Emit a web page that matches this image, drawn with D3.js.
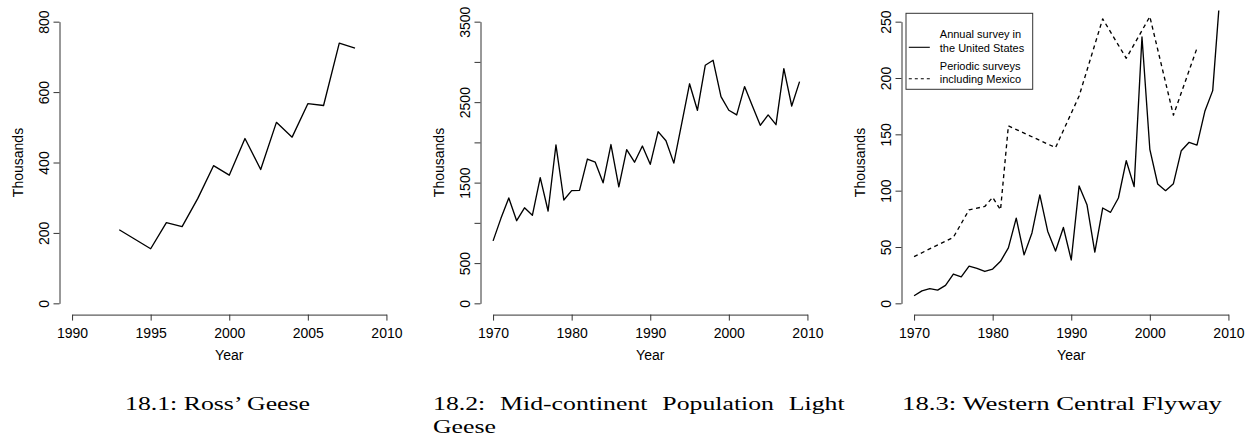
<!DOCTYPE html>
<html>
<head>
<meta charset="utf-8">
<script src="https://cdn.jsdelivr.net/npm/d3@7"></script>
<style>
  body { margin: 0; background: #fff; }
  svg text { font-family: "Liberation Sans", Arial, Helvetica, sans-serif; fill: #000; }
  .caption { font-family: "Liberation Serif", "Times New Roman", serif; }
</style>
</head>
<body>
<div id="chart-area"></div>
<script>
// --- data (thousands of birds) ---

// 18.1 Ross' Geese
let rossYears  = [1993, 1994, 1995, 1996, 1997, 1998, 1999, 2000, 2001, 2002, 2003, 2004, 2005, 2006, 2007, 2008];
let rossValues = [209, 182, 155, 229, 218, 298, 391, 364, 468, 380, 514, 472, 567, 562, 739, 725];

// 18.2 Mid-continent Population Light Geese
let mcpYears  = [1970, 1971, 1972, 1973, 1974, 1975, 1976, 1977, 1978, 1979,
                 1980, 1981, 1982, 1983, 1984, 1985, 1986, 1987, 1988, 1989,
                 1990, 1991, 1992, 1993, 1994, 1995, 1996, 1997, 1998, 1999,
                 2000, 2001, 2002, 2003, 2004, 2005, 2006, 2007, 2008, 2009];
let mcpValues = [776, 1056, 1309, 1027, 1187, 1094, 1561, 1147, 1968, 1284,
                 1400, 1404, 1793, 1754, 1497, 1973, 1447, 1910, 1754, 1955,
                 1727, 2133, 2021, 1742, 2232, 2728, 2399, 2958, 3020, 2568,
                 2399, 2341, 2693, 2452, 2212, 2341, 2220, 2916, 2452, 2755];

// 18.3 Western Central Flyway, annual survey in the United States
let wcfUsYears  = [1970, 1971, 1972, 1973, 1974, 1975, 1976, 1977, 1978, 1979,
                   1980, 1981, 1982, 1983, 1984, 1985, 1986, 1987, 1988, 1989,
                   1990, 1991, 1992, 1993, 1994, 1995, 1996, 1997, 1998, 1999,
                   2000, 2001, 2002, 2003, 2004, 2005, 2006, 2007, 2008, 2009];
let wcfUsValues = [6.7, 11.1, 13, 11.7, 16, 26, 23.5, 33, 31, 28.3,
                   30.4, 37.3, 49.2, 75.6, 43, 62.5, 96.2, 64, 46.4, 67.3,
                   38.5, 104.2, 87.6, 45.4, 84.6, 80.8, 93.5, 126.6, 103.6, 236.4,
                   136.7, 105.9, 100, 106.2, 135.5, 142.9, 140.5, 170.4, 188.8, 281];

// 18.3 Western Central Flyway, periodic surveys including Mexico
let wcfMxYears  = [1970, 1975, 1977, 1979, 1980, 1981, 1982, 1988, 1991, 1994, 1997, 2000, 2003, 2006];
let wcfMxValues = [41.5, 58.6, 83, 86, 94, 83, 157.5, 138.2, 184, 252.5, 217.5, 254.5, 167, 226.5];

// axis ticks and labels
let rossXTicks = [1990, 1995, 2000, 2005, 2010];
let rossYTicks = [0, 200, 400, 600, 800];
let rossYLabels = ["0", "200", "400", "600", "800"];

let mcpXTicks = [1970, 1980, 1990, 2000, 2010];
let mcpYTicks = [0, 500, 1000, 1500, 2000, 2500, 3000, 3500];
let mcpYLabels = ["0", "500", "", "1500", "", "2500", "", "3500"];

let wcfXTicks = [1970, 1980, 1990, 2000, 2010];
let wcfYTicks = [0, 50, 100, 150, 200, 250];
let wcfYLabels = ["0", "50", "100", "150", "200", "250"];

let legendLabels = [["Annual survey in", "the United States"], ["Periodic surveys", "including Mexico"]];

let captionTexts = ["18.1: Ross\u2019 Geese", "18.2: Mid-continent Population Light", "Geese", "18.3: Western Central Flyway"];

// --- layout ---
let W = 1252, H = 446;
let plotW = 339.5,
    plotTop = 10.4, plotBottom = 314.6,
    panelLefts = [59.5, 480.5, 901.5];
let insetX = plotW * 0.04 / 1.08,
    insetY = (plotBottom - plotTop) * 0.04 / 1.08;

let svg = d3.select("#chart-area")
    .append("svg")
    .attr("width", W)
    .attr("height", H);

let panels = [
    { xTicks: rossXTicks, yTicks: rossYTicks, yLabels: rossYLabels,
      series: [{ years: rossYears, values: rossValues, dash: null }] },
    { xTicks: mcpXTicks, yTicks: mcpYTicks, yLabels: mcpYLabels,
      series: [{ years: mcpYears, values: mcpValues, dash: null }] },
    { xTicks: wcfXTicks, yTicks: wcfYTicks, yLabels: wcfYLabels,
      series: [{ years: wcfUsYears, values: wcfUsValues, dash: null },
               { years: wcfMxYears, values: wcfMxValues, dash: "4,3.5" }] }
];

panels.forEach((p, i) => {
    let left = panelLefts[i];

    // tick range spans the axis; the plot region adds R's 4% on each side
    let x = d3.scaleLinear()
        .domain([p.xTicks[0], p.xTicks[p.xTicks.length - 1]])
        .range([left + insetX, left + plotW - insetX]);
    let y = d3.scaleLinear()
        .domain([p.yTicks[0], p.yTicks[p.yTicks.length - 1]])
        .range([plotBottom - insetY, plotTop + insetY]);

    svg.append("clipPath")
        .attr("id", "clip" + i)
        .append("rect")
        .attr("x", left).attr("y", plotTop)
        .attr("width", plotW).attr("height", plotBottom - plotTop);

    // lines
    let line = d3.line()
        .x(d => x(d[0]))
        .y(d => y(d[1]));

    p.series.forEach(s => {
        svg.append("path")
            .datum(s.years.map((yr, k) => [yr, s.values[k]]))
            .attr("clip-path", "url(#clip" + i + ")")
            .attr("d", line)
            .style("fill", "none")
            .style("stroke", "#000")
            .style("stroke-width", 1.35)
            .style("stroke-linejoin", "round")
            .style("stroke-dasharray", s.dash);
    });

    // x axis
    let gx = svg.append("g")
        .attr("transform", "translate(0," + plotBottom + ")")
        .call(d3.axisBottom(x).tickValues(p.xTicks).tickFormat(d3.format("d")).tickSize(6).tickSizeOuter(0));
    gx.selectAll("text").attr("y", 23).attr("dy", 0).style("font-size", "14px");

    // y axis with rotated labels (R's las = 0)
    let gy = svg.append("g")
        .attr("transform", "translate(" + left + ",0)")
        .call(d3.axisLeft(y).tickValues(p.yTicks).tickFormat((d, k) => p.yLabels[k]).tickSize(6).tickSizeOuter(0));
    gy.selectAll("text")
        .attr("transform", "rotate(-90)")
        .attr("x", 0).attr("y", -11).attr("dy", 0)
        .attr("text-anchor", "middle")
        .style("font-size", "14px");

    svg.selectAll(".domain, .tick line").style("stroke", "#333").style("stroke-width", 1);
    svg.selectAll(".tick text").style("font-family", null);

    // axis titles
    svg.append("text")
        .attr("x", (x.range()[0] + x.range()[1]) / 2)
        .attr("y", 360)
        .attr("text-anchor", "middle")
        .style("font-size", "14px")
        .text("Year");

    svg.append("text")
        .attr("transform", "translate(" + (left - 36.8) + "," + ((y.range()[0] + y.range()[1]) / 2) + ") rotate(-90)")
        .attr("text-anchor", "middle")
        .style("font-size", "14px")
        .text("Thousands");

    // legend for the Western Central Flyway panel
    if (i === 2) {
        let lg = svg.append("g").attr("transform", "translate(" + (left + 4.5) + ",13.3)");
        lg.append("rect")
            .attr("x", 0).attr("y", 0)
            .attr("width", 126.7).attr("height", 76)
            .style("fill", "#fff").style("stroke", "#333").style("stroke-width", 1);
        let dashes = [null, "3,3"];
        legendLabels.forEach((lab, k) => {
            let base = 25 + k * 31.5;
            lg.append("line")
                .attr("x1", 2.8).attr("x2", 23.8)
                .attr("y1", base + 9).attr("y2", base + 9)
                .style("stroke", "#000").style("stroke-width", 1.1)
                .style("stroke-dasharray", dashes[k]);
            lab.forEach((t, j) => {
                lg.append("text")
                    .attr("x", 33.8)
                    .attr("y", base + j * 13.3)
                    .style("font-size", "11px")
                    .text(t);
            });
        });
    }
});

// --- subfigure captions (LaTeX style, serif), stretched toward Computer Modern widths ---
let capSize = 19;
function caption(txt, x, yb, width) {
    return svg.append("text")
        .attr("class", "caption")
        .attr("x", x).attr("y", yb)
        .attr("textLength", width)
        .attr("lengthAdjust", "spacingAndGlyphs")
        .style("font-size", capSize + "px")
        .text(txt);
}
let cap1 = caption(captionTexts[0], 125, 410, 185);

// horizontal stretch taken from the first caption's natural width
cap1.attr("textLength", null);
let sx = 185 / cap1.node().getComputedTextLength();
cap1.attr("textLength", 185);

// justified first line of the two-line middle caption
let cap2a = svg.append("text").attr("class", "caption").style("font-size", capSize + "px").text(captionTexts[1]);
let w2 = cap2a.node().getComputedTextLength();
let gaps = captionTexts[1].split(" ").length - 1;
cap2a.attr("word-spacing", ((412 / sx - w2) / gaps) + "px")
    .attr("transform", "translate(433,410) scale(" + sx + ",1)");

svg.append("text").attr("class", "caption").style("font-size", capSize + "px")
    .attr("transform", "translate(433,432.5) scale(" + sx + ",1)")
    .text(captionTexts[2]);

caption(captionTexts[3], 902, 410, 320);
</script>
</body>
</html>
